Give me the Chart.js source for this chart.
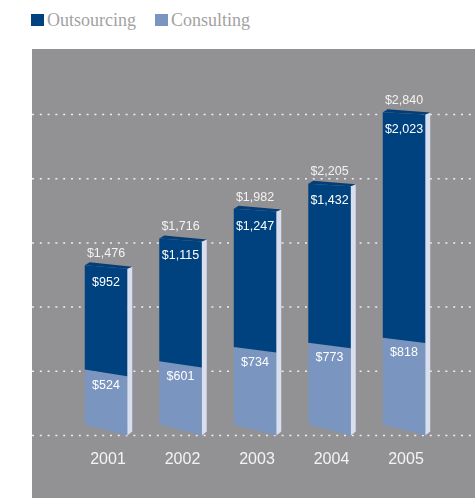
<!DOCTYPE html>
<html>
<head>
<meta charset="utf-8">
<script src="https://cdn.jsdelivr.net/npm/chart.js@4.4.0/dist/chart.umd.min.js"></script>
<style>
  html, body { margin: 0; padding: 0; background: #fff; }
  body { width: 475px; height: 498px; position: relative; overflow: hidden; }
  .legenda { position: absolute; left: 31px; top: 10px; display: flex; align-items: center;
             font-family: "Liberation Serif", serif; font-size: 18px; line-height: 20px; color: #a2a2a2; }
  .legenda .item { display: flex; align-items: center; margin-right: 19px; }
  .legenda .caixa { display: inline-block; width: 13px; height: 12px; margin-right: 3px; }
  .painel { position: absolute; left: 32px; top: 49px; width: 443px; height: 449px; background: #929295; }
</style>
</head>
<body>
<div class="legenda">
  <div class="item"><span class="caixa" style="background:#00427f"></span>Outsourcing</div>
  <div class="item"><span class="caixa" style="background:#7a95bf"></span>Consulting</div>
</div>
<div class="painel">
  <canvas id="grafico-receita" width="443" height="449"></canvas>
</div>
<script>
// Receita por ano (US$ milhões)
const anos = ['2001', '2002', '2003', '2004', '2005'];
const outsourcing = [952, 1115, 1247, 1432, 2023];
const consulting = [524, 601, 734, 773, 818];
const totais = [1476, 1716, 1982, 2205, 2840];

const corOutsourcing = '#00427f';
const corConsulting = '#7a95bf';
const corLateral = '#dadff0';

function dolar(v) {
    return '$' + v.toLocaleString('en-US');
}

// Quanto a borda esquerda sobe em relação à direita (efeito de perspectiva)
function inclinacao(altura) {
    return 2 + 9 * Math.exp(-altura / 90);
}

// Linhas pontilhadas atravessando todo o painel
const linhasGrade = {
    id: 'linhasGrade',
    beforeDatasetsDraw(chart) {
        const ctx = chart.ctx;
        const y = chart.scales.y;
        ctx.save();
        ctx.strokeStyle = 'rgba(255,255,255,0.85)';
        ctx.lineWidth = 1.5;
        ctx.setLineDash([2, 5.8]);
        y.ticks.forEach(t => {
            const py = y.getPixelForValue(t.value);
            ctx.beginPath();
            ctx.moveTo(0, py);
            ctx.lineTo(chart.width, py);
            ctx.stroke();
        });
        ctx.restore();
    }
};

function poligono(ctx, pontos, cor) {
    ctx.beginPath();
    ctx.moveTo(pontos[0][0], pontos[0][1]);
    pontos.slice(1).forEach(p => ctx.lineTo(p[0], p[1]));
    ctx.closePath();
    ctx.fillStyle = cor;
    ctx.fill();
}

// Barras em 3D desenhadas a partir da geometria calculada pelo Chart.js
const barras3d = {
    id: 'barras3d',
    beforeDatasetDraw() {
        return false;
    },
    afterDatasetsDraw(chart) {
        const ctx = chart.ctx;
        const base = chart.scales.y.getPixelForValue(0);
        const metaC = chart.getDatasetMeta(0);
        const metaO = chart.getDatasetMeta(1);
        const esq = y => y - inclinacao(base - y);

        ctx.save();
        anos.forEach((ano, i) => {
            const barC = metaC.data[i];
            const barO = metaO.data[i];
            const L = barC.x - barC.width / 2;
            const R = barC.x + barC.width / 2;
            const yDiv = barC.y;
            const yTopo = barO.y;

            // lateral
            poligono(ctx, [[R, yTopo], [R + 5, yTopo - 2], [R + 5, base - 4], [R, base]], corLateral);
            // frente - consulting
            poligono(ctx, [[L, esq(yDiv)], [R, yDiv], [R, base], [L, esq(base)]], corConsulting);
            // frente - outsourcing
            poligono(ctx, [[L, esq(yTopo)], [R, yTopo], [R, yDiv], [L, esq(yDiv)]], corOutsourcing);
            // topo
            poligono(ctx, [[L, esq(yTopo)], [L + 5, esq(yTopo) - 3], [R + 5, yTopo - 2], [R, yTopo]], '#053d77');

            // rótulos
            ctx.font = '12.5px "Liberation Sans", Arial, sans-serif';
            ctx.textAlign = 'center';
            ctx.textBaseline = 'middle';
            const meioTopo = (esq(yTopo) + yTopo) / 2;
            const meioDiv = (esq(yDiv) + yDiv) / 2;
            ctx.fillStyle = '#f2f2f2';
            ctx.fillText(dolar(totais[i]), barC.x, meioTopo - 13);
            ctx.fillStyle = '#ffffff';
            ctx.fillText(dolar(outsourcing[i]), barC.x, meioTopo + 16);
            ctx.fillText(dolar(consulting[i]), barC.x, meioDiv + 12.5);
        });
        ctx.restore();
    }
};

const ctx = document.getElementById('grafico-receita').getContext('2d');
new Chart(ctx, {
    type: 'bar',
    data: {
        labels: anos,
        datasets: [{
            label: 'Consulting',
            data: consulting,
            backgroundColor: corConsulting
        }, {
            label: 'Outsourcing',
            data: outsourcing,
            backgroundColor: corOutsourcing
        }]
    },
    options: {
        responsive: false,
        animation: false,
        barPercentage: 0.57,
        categoryPercentage: 1,
        layout: {
            padding: { top: 65.5, left: 36.75, right: 33.75, bottom: 15.3 }
        },
        plugins: {
            legend: { display: false },
            tooltip: { enabled: false }
        },
        scales: {
            x: {
                stacked: true,
                grid: { display: false, drawTicks: false },
                border: { display: false },
                ticks: {
                    color: '#f4f4f4',
                    padding: 14,
                    labelOffset: 2,
                    font: { family: '"Liberation Sans", Arial, sans-serif', size: 16 }
                }
            },
            y: {
                stacked: true,
                display: false,
                min: 0,
                max: 2840,
                ticks: { stepSize: 568 }
            }
        }
    },
    plugins: [linhasGrade, barras3d]
});
</script>
</body>
</html>
